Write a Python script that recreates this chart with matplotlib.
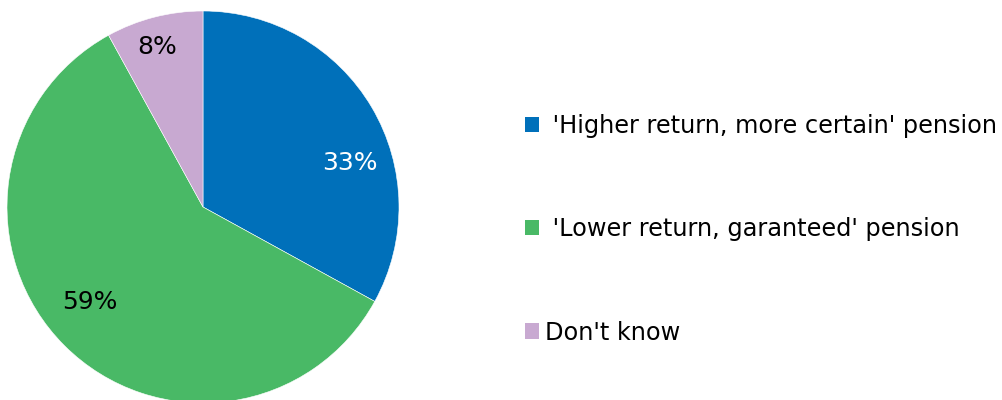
import matplotlib.pyplot as plt
from matplotlib.patches import Patch

# data
labels = [" 'Higher return, more certain' pension",
          " 'Lower return, garanteed' pension",
          "Don't know"]
shares = [33, 59, 8]
pct_text = ["33%", "59%", "8%"]
colors = ["#0070BA", "#49B966", "#C8A9D1"]
text_colors = ["white", "black", "black"]
# label positions in data units (pie radius = 1)
label_pos = [(0.75, 0.225), (-0.575, -0.485), (-0.235, 0.815)]

fig = plt.figure(figsize=(10.03, 4.0), dpi=100)
ax = fig.add_axes([7 / 1003, -3 / 400, 392 / 1003, 392 / 400])

wedges, _ = ax.pie(shares, colors=colors, startangle=90, counterclock=False,
                   radius=1, wedgeprops=dict(linewidth=0.4, edgecolor="white"))
ax.set_xlim(-1, 1)
ax.set_ylim(-1, 1)
ax.set_aspect("equal")
ax.axis("off")

for txt, pos, c in zip(pct_text, label_pos, text_colors):
    ax.text(pos[0], pos[1], txt, ha="center", va="center", fontsize=18,
            color=c, family="DejaVu Sans")

handles = [Patch(facecolor=c, edgecolor="none") for c in colors]
fig.legend(handles, labels, loc="upper left", bbox_to_anchor=(525 / 1003, 1 - 114 / 400),
           frameon=False, fontsize=17.3, handlelength=0.6, handleheight=0.6,
           handletextpad=0.25, labelspacing=3.3, borderaxespad=0, borderpad=0)

fig.savefig("out.png", dpi=100)
